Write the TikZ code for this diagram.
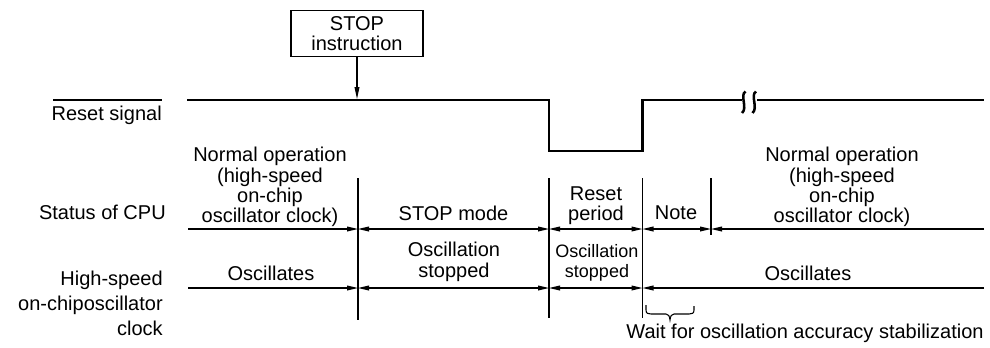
\documentclass[tikz,border=0pt]{standalone}
\usepackage{fontspec}
\setmainfont{Liberation Sans}
\usetikzlibrary{arrows.meta}
\begin{document}
\begin{tikzpicture}[x=0.75pt,y=-0.75pt,
  thin line/.style={line width=0.8pt},
  signal/.style={line width=2.2pt},
  tip/.style={-{Triangle[length=8.25pt,width=3.6pt]}},
  both tips/.style={{Triangle[length=8.25pt,width=3.6pt]}-{Triangle[length=8.25pt,width=3.6pt]}},
  lbl/.style={inner sep=0pt,font=\fontsize{15}{15.2}\selectfont,align=center,anchor=base},
  small lbl/.style={lbl,font=\fontsize{13.5}{15.5}\selectfont},
  stopbox/.style={draw,thin line,minimum width=99pt,minimum height=35pt,inner sep=0pt,align=center,font=\fontsize{15}{14.5}\selectfont}]
\useasboundingbox (0,0) rectangle (990,347);
% STOP instruction
\node[stopbox] (stop) at (357,33.5) {STOP\\instruction};
% reset signal waveform
\coordinate (r0) at (188,100);
\coordinate (r1) at (549,100);
\coordinate (r2) at (549,151);
\coordinate (r3) at (642.5,151);
\coordinate (r4) at (642.5,100);
\coordinate (b0) at (741,100);
\coordinate (b1) at (757,100);
\coordinate (r5) at (984,100);
\coordinate (stoppt) at (357,99);
\draw[signal,line join=miter,line cap=rect] (r0) -- (r1) -- (r2) -- (r3) -- (r4) -- (b0);
\draw[signal] (b1) -- (r5);
\draw[line width=1.9pt] (745.5,91.5) .. controls (739.5,95) and (748,108) .. (742,113);
\draw[line width=1.9pt] (756,91.5) .. controls (750,95) and (758.5,108) .. (752.5,113);
\draw[thin line,-{Triangle[length=9pt,width=3.6pt]}] (stop.south) -- (stoppt);
% row labels
\node[lbl,anchor=base east] (rst) at (162,120.5) {Reset signal};
\draw[thin line] ([xshift=1.5pt]rst.north west |- 0,100) coordinate (ol0) -- (ol0 -| rst.north east);
\node[lbl,anchor=base east] (cpu) at (166,219) {Status of CPU};
\node[lbl,anchor=north east,font=\fontsize{15}{18.8}\selectfont,align=right] (osc) at (163,270.5) {High-speed\\on-chiposcillator\\clock};
% vertical boundaries
\coordinate (v1t) at (358,178);   \coordinate (v1b) at (358,320);
\coordinate (v2t) at (549,178);   \coordinate (v2b) at (549,318);
\coordinate (v3t) at (642.5,178); \coordinate (v3b) at (642.5,318);
\coordinate (v4t) at (711,178);   \coordinate (v4b) at (711,235);
\foreach \a/\b in {v1t/v1b,v2t/v2b,v3t/v3b,v4t/v4b} \draw[thin line] (\a) -- (\b);
% CPU row
\coordinate (c0) at (188,229);
\coordinate (c5) at (984,229);
\draw[thin line,tip] (c0) -- (c0 -| v1t);
\draw[thin line,both tips] (c0 -| v1t) -- (c0 -| v2t);
\draw[thin line,both tips] (c0 -| v2t) -- (c0 -| v3t);
\draw[thin line,both tips] (c0 -| v3t) -- (c0 -| v4t);
\draw[thin line,tip] (c5) -- (c0 -| v4t);
% oscillator row
\coordinate (o0) at (188,288);
\coordinate (o5) at (984,288);
\draw[thin line,tip] (o0) -- (o0 -| v1t);
\draw[thin line,both tips] (o0 -| v1t) -- (o0 -| v2t);
\draw[thin line,both tips] (o0 -| v2t) -- (o0 -| v3t);
\draw[thin line,tip] (o5) -- (o0 -| v3t);
% CPU texts
\node[lbl,anchor=north] (n1) at (270,147) {Normal operation\\(high-speed\\on-chip\\oscillator clock)};
\node[lbl] (stm) at (453.5,220) {STOP mode};
\node[lbl,anchor=north] (rp) at (596,186.5) {Reset\\period};
\node[lbl] (note) at (676,219) {Note};
\node[lbl,anchor=north] (n2) at (842,147) {Normal operation\\(high-speed\\on-chip\\oscillator clock)};
% oscillator texts
\node[lbl] (os1) at (271,280) {Oscillates};
\node[lbl,anchor=north] (os2) at (454,242) {Oscillation\\stopped};
\node[small lbl,anchor=north] (os3) at (597,244) {Oscillation\\stopped};
\node[lbl] (os4) at (808,280) {Oscillates};
% brace
\coordinate (br0) at (646,305);
\coordinate (br1) at (694,306);
\coordinate (brt) at (670,320);
\draw[thin line] (br0) -- (646,310) .. controls (646,313.5) and (648,314) .. (651,314) -- (666,314) .. controls (668.5,314) and (669.5,316) .. (brt)
  .. controls (670.5,316) and (671.5,314) .. (674,314) -- (689,314) .. controls (692,314) and (694,313.5) .. (694,310) -- (br1);
\node[lbl] (wait) at (805,338) {Wait for oscillation accuracy stabilization};
\end{tikzpicture}
\end{document}
